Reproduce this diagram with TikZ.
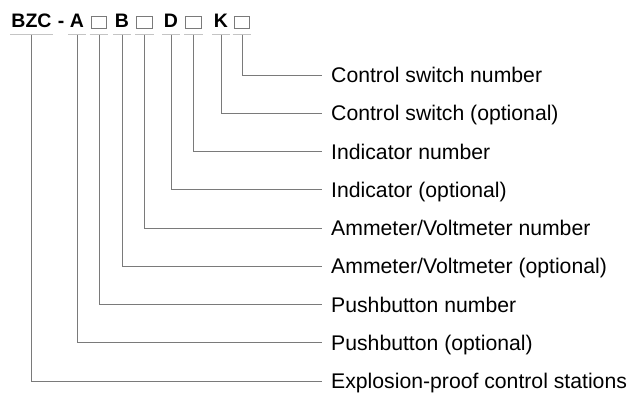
\documentclass[tikz,border=0pt]{standalone}
\usepackage{fontspec}
\setmainfont{Liberation Sans}
\usetikzlibrary{positioning}

\definecolor{linegray}{HTML}{7A7A7A}
\definecolor{ulgray}{HTML}{C4C4C4}
\newcommand{\blankbox}{\textcolor{linegray}{\fboxsep=0pt\fboxrule=0.9pt\fbox{\rule{0pt}{11pt}\hspace{14.5pt}}}}

\begin{document}
\begin{tikzpicture}[x=1pt, y=-1pt,
  code/.style={anchor=base, inner xsep=1pt, inner ysep=0pt, minimum width=17pt,
    text depth=6.8pt, font=\fontsize{19.5}{21}\selectfont\bfseries},
  desc/.style={anchor=west, inner xsep=9pt, inner ysep=0pt, text height=15pt,
    text depth=0pt, font=\fontsize{21.2}{25}\selectfont},
  conn/.style={draw=linegray, line width=0.9pt},
  uline/.style={draw=ulgray, line width=0.9pt}]
  \useasboundingbox (0,0) rectangle (629,393);

  % type code
  \node[code] (bzc) at (31.5,27.7) {BZC};
  \node[code, minimum width=0pt] (dash) at (61,27.7) {-};
  \node[code] (a) at (77,27.7) {A};
  \node[code] (sqa) at (99,27.7) {\blankbox};
  \node[code] (b) at (122,27.7) {B};
  \node[code] (sqb) at (144.5,27.7) {\blankbox};
  \node[code] (d) at (171,27.7) {D};
  \node[code] (sqd) at (193.5,27.7) {\blankbox};
  \node[code] (k) at (221,27.7) {K};
  \node[code] (sqk) at (242,27.7) {\blankbox};

  % underlines
  \foreach \n in {bzc,a,sqa,b,sqb,d,sqd,k,sqk}
    \draw[uline] (\n.south west) -- (\n.south east);

  % meanings
  \node[desc] (csn) at (322,75) {Control switch number};
  \node[desc] (cs) at (322,113.25) {Control switch (optional)};
  \node[desc] (indn) at (322,151.5) {Indicator number};
  \node[desc] (ind) at (322,189.75) {Indicator (optional)};
  \node[desc] (amn) at (322,228) {Ammeter/Voltmeter number};
  \node[desc] (am) at (322,266.25) {Ammeter/Voltmeter (optional)};
  \node[desc] (pbn) at (322,304.5) {Pushbutton number};
  \node[desc] (pb) at (322,342.75) {Pushbutton (optional)};
  \node[desc] (ex) at (322,381) {Explosion-proof control stations};

  \draw[conn] (sqk.south) |- (csn.west);
  \draw[conn] (k.south) |- (cs.west);
  \draw[conn] (sqd.south) |- (indn.west);
  \draw[conn] (d.south) |- (ind.west);
  \draw[conn] (sqb.south) |- (amn.west);
  \draw[conn] (b.south) |- (am.west);
  \draw[conn] (sqa.south) |- (pbn.west);
  \draw[conn] (a.south) |- (pb.west);
  \draw[conn] (bzc.south) |- (ex.west);
\end{tikzpicture}
\end{document}
